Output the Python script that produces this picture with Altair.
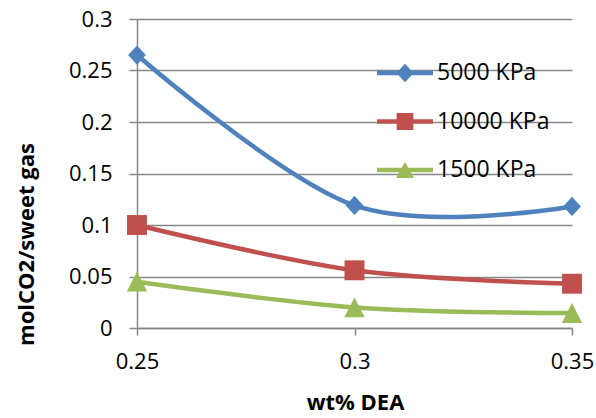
import altair as alt
import pandas as pd

# wt% DEA on the x axis
dea = [0.25, 0.3, 0.35]

# molCO2 per sweet gas for each pressure
series_names = ["5000 KPa", "10000 KPa", "1500 KPa"]
co2_5000 = [0.265, 0.119, 0.118]
co2_10000 = [0.100, 0.056, 0.043]
co2_1500 = [0.045, 0.020, 0.0145]

colors = ["#4F81BD", "#C0504D", "#9BBB59"]

# marker outlines in the -1..1 symbol box
marker_paths = [
    "M0,-0.8L0.74,0L0,0.8L-0.74,0Z",
    "M-0.83,-0.83H0.83V0.83H-0.83Z",
    "M0,-0.83L0.85,0.83H-0.85Z",
]
# legend keys: a short line with the marker on top
legend_paths = [
    "M-2.33,-0.19H2.33V0.19H-2.33Z M0,-0.78L0.72,0L0,0.78L-0.72,0Z",
    "M-2.33,-0.19H2.33V0.19H-2.33Z M-0.7,-0.7H0.7V0.7H-0.7Z",
    "M-2.33,-0.19H2.33V0.19H-2.33Z M0,-0.69L0.75,0.67H-0.75Z",
]

rows = []
for name, vals in zip(series_names, [co2_5000, co2_10000, co2_1500]):
    for x, v in zip(dea, vals):
        rows.append({"dea": x, "co2": v, "series": name})
df = pd.DataFrame(rows)

FONT = "Open Sans"
GRAY = "#878787"

x_enc = alt.X(
    "dea:Q",
    scale=alt.Scale(domain=[0.25, 0.35], nice=False, zero=False),
    axis=alt.Axis(
        values=dea,
        format=".2~f",
        grid=False,
        domainColor=GRAY,
        domainWidth=1.5,
        tickColor=GRAY,
        tickWidth=1.5,
        tickSize=7,
        labelFont=FONT,
        labelFontSize=22,
        labelColor="black",
        labelPadding=16,
        labelFlush=False,
        title="wt% DEA",
        titleFont=FONT,
        titleFontSize=22,
        titleFontWeight="bold",
        titleColor="black",
        titleX=218,
        titleY=81,
        titleBaseline="alphabetic",
        titleAlign="center",
    ),
)
y_enc = alt.Y(
    "co2:Q",
    scale=alt.Scale(domain=[0, 0.3], nice=False),
    axis=alt.Axis(
        values=[0, 0.05, 0.1, 0.15, 0.2, 0.25, 0.3],
        format=".2~f",
        grid=True,
        gridColor=GRAY,
        gridWidth=1.5,
        domainColor=GRAY,
        domainWidth=1.5,
        tickColor=GRAY,
        tickWidth=1.5,
        tickSize=8,
        labelFont=FONT,
        labelFontSize=22,
        labelColor="black",
        labelPadding=17,
        labelFlush=False,
        title="molCO2/sweet gas",
        titleFont=FONT,
        titleFontSize=22,
        titleFontWeight="bold",
        titleColor="black",
        titleAngle=270,
        titleX=-104,
        titleY=225,
        titleBaseline="alphabetic",
        titleAlign="center",
    ),
)

color_scale = alt.Scale(domain=series_names, range=colors)

lines = alt.Chart(df).mark_line(
    interpolate="cardinal", strokeWidth=4.5
).encode(
    x=x_enc,
    y=y_enc,
    color=alt.Color("series:N", scale=color_scale, legend=None),
    detail="series:N",
)

points = alt.Chart(df).mark_point(
    filled=True, size=576, opacity=1, strokeWidth=0
).encode(
    x=x_enc,
    y=y_enc,
    color=alt.Color("series:N", scale=color_scale, legend=None),
    shape=alt.Shape(
        "series:N",
        scale=alt.Scale(domain=series_names, range=marker_paths),
        legend=None,
    ),
)

key = alt.Chart(df).transform_filter("false").mark_point(
    filled=True, size=576, opacity=1, strokeWidth=0
).encode(
    x=x_enc,
    y=y_enc,
    color=alt.Color(
        "series:N",
        scale=color_scale,
        legend=alt.Legend(title=None),
    ),
    shape=alt.Shape(
        "series:N",
        scale=alt.Scale(domain=series_names, range=legend_paths),
        legend=alt.Legend(title=None),
    ),
)

chart = (
    alt.layer(lines, points, key)
    .resolve_scale(color="independent", shape="independent")
    .properties(
        width=435,
        height=309,
        autosize=alt.AutoSizeParams(type="none"),
        padding={"left": 137, "top": 19, "right": 24, "bottom": 90},
        background="white",
    )
    .configure_view(stroke=None)
    .configure_legend(
        orient="none",
        legendX=256,
        legendY=42,
        padding=0,
        symbolSize=576,
        symbolStrokeWidth=0,
        symbolOpacity=1,
        labelOffset=20,
        rowPadding=24.5,
        labelFont=FONT,
        labelFontSize=23,
        labelColor="black",
        labelLimit=300,
    )
)

chart.save("out.html", embed_options={"renderer": "svg", "actions": False})
